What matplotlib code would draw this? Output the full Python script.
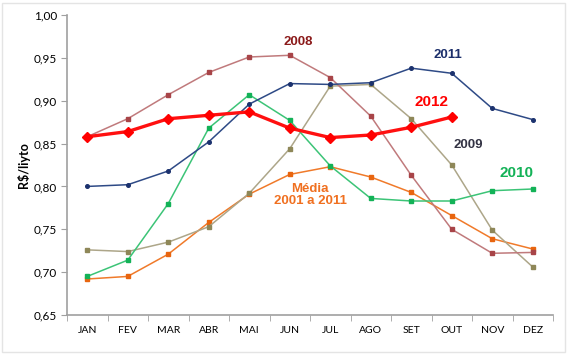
import matplotlib
matplotlib.use("Agg")
import matplotlib.pyplot as plt
from matplotlib.patches import Rectangle

meses = ['JAN', 'FEV', 'MAR', 'ABR', 'MAI', 'JUN', 'JUL', 'AGO', 'SET', 'OUT', 'NOV', 'DEZ']

media = [0.692, 0.695, 0.721, 0.758, 0.791, 0.814, 0.823, 0.811, 0.793, 0.766, 0.739, 0.727]
v2008 = [0.858, 0.879, 0.907, 0.933, 0.951, 0.953, 0.927, 0.882, 0.813, 0.750, 0.722, 0.723]
v2009 = [0.726, 0.724, 0.735, 0.753, 0.792, 0.844, 0.917, 0.919, 0.879, 0.825, 0.749, 0.706]
v2010 = [0.695, 0.714, 0.780, 0.868, 0.907, 0.877, 0.824, 0.786, 0.783, 0.783, 0.795, 0.797]
v2011 = [0.800, 0.802, 0.818, 0.852, 0.896, 0.920, 0.919, 0.921, 0.938, 0.932, 0.891, 0.878]
v2012 = [0.858, 0.864, 0.879, 0.883, 0.887, 0.868, 0.857, 0.860, 0.869, 0.881]

yticks = [0.65, 0.70, 0.75, 0.80, 0.85, 0.90, 0.95, 1.00]

fig = plt.figure(figsize=(5.7, 3.55), dpi=100)
ax = fig.add_axes([67 / 570, 1 - 315 / 355, 486 / 570, 300 / 355])

x = list(range(12))
ax.plot(x, media, color='#F07A2A', lw=1.1, marker='s', ms=3, mfc='#E8650F', mec='#E8650F')
ax.plot(x, v2009, color='#ADA689', lw=1.1, marker='s', ms=3, mfc='#8E8758', mec='#8E8758')
ax.plot(x, v2008, color='#C07A7C', lw=1.1, marker='s', ms=3, mfc='#A84448', mec='#A84448')
ax.plot(x, v2010, color='#3CC477', lw=1.1, marker='s', ms=3, mfc='#13B257', mec='#13B257')
ax.plot(x, v2011, color='#2E4A86', lw=1.1, marker='o', ms=2.6, mfc='#1C326E', mec='#1C326E')
ax.plot(x[:len(v2012)], v2012, color='#FF1010', lw=2.4, marker='D', ms=5.5, mfc='#FF0000', mec='#FF0000')

ax.set_xlim(-0.5, 11.5)
ax.set_ylim(0.65, 1.00)
ax.set_yticks(yticks)
ax.set_yticklabels([f'{v:.2f}'.replace('.', ',') for v in yticks], fontsize=8.5, family='Lato')
ax.set_xticks(x)
ax.set_xticklabels(meses, fontsize=7.5, family='Lato')
ax.set_xticks([i - 0.5 for i in range(13)], minor=True)
ax.tick_params(axis='x', which='major', length=0, pad=8)
ax.tick_params(axis='x', which='minor', length=4, color='#A0A0A0')
ax.tick_params(axis='y', length=4, color='#A0A0A0', pad=3)

for s in ['top', 'right']:
    ax.spines[s].set_visible(False)
for s in ['left', 'bottom']:
    ax.spines[s].set_color('#A0A0A0')
    ax.spines[s].set_linewidth(1.2)

ax.set_ylabel('R$/liyto', fontsize=9, fontweight='bold', family='Lato', labelpad=3)

lab = dict(family='Liberation Sans', fontweight='bold', ha='center', va='center')
ax.text(5.2, 0.969, '2008', color='#8B1A1A', fontsize=9.5, **lab)
ax.text(8.9, 0.953, '2011', color='#1C2F6B', fontsize=9.5, **lab)
ax.text(8.5, 0.899, '2012', color='#FF0000', fontsize=11, **lab)
ax.text(9.4, 0.848, '2009', color='#333344', fontsize=9.5, **lab)
ax.text(10.6, 0.816, '2010', color='#13B257', fontsize=11, **lab)
ax.text(5.5, 0.790, 'Média\n2001 a 2011', color='#F07020', fontsize=9.5,
        linespacing=1.1, **lab)

fig.patches.append(Rectangle((2 / 570, 3 / 355), 563 / 570, 349 / 355,
                             transform=fig.transFigure, fill=False,
                             edgecolor='#E4E4E4', lw=1))

fig.savefig('out.png', dpi=100)
